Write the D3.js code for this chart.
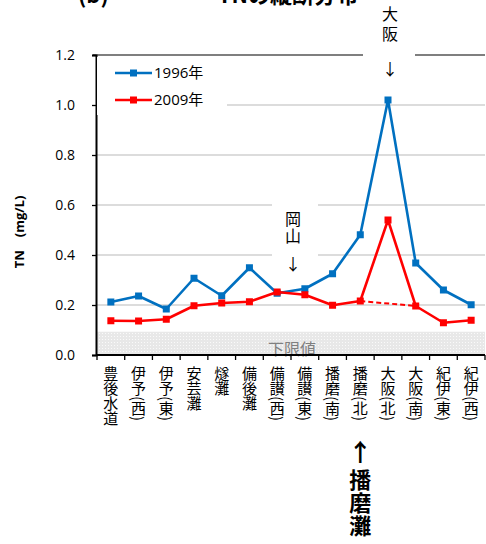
<!DOCTYPE html>
<html>
<head>
<meta charset="utf-8">
<script src="https://cdn.jsdelivr.net/npm/d3@7"></script>
<style>
  html, body { margin: 0; padding: 0; background: #fff; }
  svg { display: block; }
  text { font-family: "Noto Sans CJK JP", "Open Sans", sans-serif; }
</style>
</head>
<body>
<svg id="chart" width="486" height="544"></svg>
<script>
// Stations along the Seto Inland Sea, west to east
const categories = ["豊後水道", "伊予(西)", "伊予(東)", "安芸灘", "燧灘", "備後灘", "備讃(西)",
  "備讃(東)", "播磨(南)", "播磨(北)", "大阪(北)", "大阪(南)", "紀伊(東)", "紀伊(西)"];

// Total nitrogen (mg/L)
const tn1996 = [0.212, 0.236, 0.184, 0.307, 0.237, 0.349, 0.247, 0.265, 0.325, 0.481, 1.02, 0.368, 0.26, 0.201];
const tn2009 = [0.137, 0.136, 0.143, 0.197, 0.208, 0.213, 0.252, 0.241, 0.199, 0.216, 0.54, 0.196, 0.129, 0.139];

const seriesNames = ["1996年", "2009年"];
const seriesColors = ["#0070C0", "#FF0000"];

const yTicks = [0, 0.2, 0.4, 0.6, 0.8, 1.0, 1.2];
const detectionLimit = 0.093;

const svg = d3.select("#chart");
const plotLeft = 97, plotRight = 485, plotTop = 55, plotBottom = 355;

const x = d3.scaleBand().domain(categories).range([plotLeft, plotRight]);
const y = d3.scaleLinear().domain([0, 1.2]).range([plotBottom, plotTop]);
const cx = c => x(c) + x.bandwidth() / 2;

// Title, running off the top edge of the figure
svg.append("text").attr("x", 78).attr("y", 3)
  .style("font-size", "22px").style("font-weight", "bold").text("(b)");
svg.append("text").attr("x", 358).attr("y", 3).attr("text-anchor", "end")
  .style("font-size", "22px").style("font-weight", "bold").text("TNの縦断分布");

// Detection-limit band
const defs = svg.append("defs");
const pat = defs.append("pattern").attr("id", "dots").attr("patternUnits", "userSpaceOnUse")
  .attr("width", 3).attr("height", 3);
pat.append("rect").attr("width", 3).attr("height", 3).attr("fill", "#E8E8E8");
pat.append("rect").attr("width", 1).attr("height", 1).attr("fill", "#FAFAFA");

svg.append("rect").attr("x", plotLeft).attr("y", y(detectionLimit))
  .attr("width", plotRight - plotLeft).attr("height", y(0) - y(detectionLimit))
  .attr("fill", "url(#dots)");
svg.append("text").attr("x", (plotLeft + plotRight) / 2 + 1).attr("y", 355)
  .attr("text-anchor", "middle").attr("fill", "#7F7F7F")
  .style("font-size", "16px").text("下限値");

// Gridlines
svg.append("g").selectAll("line").data(yTicks.filter(t => t > 0 && t < 1.2)).join("line")
  .attr("x1", plotLeft).attr("x2", plotRight).attr("y1", d => y(d)).attr("y2", d => y(d))
  .attr("stroke", "#D0D0D0").attr("stroke-width", 1.3);
svg.append("line").attr("x1", 93).attr("x2", plotRight).attr("y1", y(1.2)).attr("y2", y(1.2))
  .attr("stroke", "#555").attr("stroke-width", 1.6);

// Y axis
const yAxis = svg.append("g").attr("transform", `translate(${plotLeft - 1},0)`)
  .call(d3.axisLeft(y).tickValues(yTicks).tickFormat(d3.format(".1f")).tickSize(4).tickPadding(17));
yAxis.select(".domain").attr("stroke", "#000").attr("stroke-width", 2);
yAxis.selectAll(".tick line").attr("stroke", "#000").attr("stroke-width", 1.3);
yAxis.selectAll(".tick text").style("font-family", "'Open Sans', sans-serif").style("font-size", "14px").attr("fill", "#000");

svg.append("text").attr("transform", "translate(24,232) rotate(-90)")
  .attr("text-anchor", "middle").style("font-size", "13px").style("font-weight", "bold")
  .style("font-family", "'Open Sans', sans-serif").text("TN　(mg/L)");

// X axis
const boundaries = categories.map(c => x(c)).concat([plotRight]);
svg.append("line").attr("x1", plotLeft - 1).attr("x2", plotRight).attr("y1", plotBottom).attr("y2", plotBottom)
  .attr("stroke", "#000").attr("stroke-width", 2);
svg.append("g").selectAll("line").data(boundaries).join("line")
  .attr("x1", d => d).attr("x2", d => d).attr("y1", plotBottom).attr("y2", plotBottom + 5)
  .attr("stroke", "#000").attr("stroke-width", 1.3);
svg.append("g").selectAll("text").data(categories).join("text")
  .attr("x", d => cx(d)).attr("y", 366)
  .style("writing-mode", "vertical-rl").style("font-size", "15px")
  .text(d => d);

// Annotation boxes (white backgrounds) and callouts
svg.append("rect").attr("x", plotLeft).attr("y", 57).attr("width", 130).attr("height", 58).attr("fill", "#fff");
svg.append("rect").attr("x", 272).attr("y", 193).attr("width", 46).attr("height", 82).attr("fill", "#fff");
svg.append("rect").attr("x", 363).attr("y", 0).attr("width", 52).attr("height", 90).attr("fill", "#fff");

function callout(xc, y0, label, spacing) {
  svg.append("text").attr("x", xc).attr("y", y0)
    .style("writing-mode", "vertical-rl").style("font-size", "16px")
    .style("letter-spacing", spacing + "px").text(label);
}
callout(293, 211, "岡山", 1);
callout(390, 6, "大阪", 4);
svg.append("text").attr("x", 293).attr("y", 270).attr("text-anchor", "middle").style("font-size", "16px").text("↓");
svg.append("text").attr("x", 390).attr("y", 75).attr("text-anchor", "middle").style("font-size", "16px").text("↓");

// 播磨灘 callout below the axis
svg.append("text").attr("x", cx("播磨(北)")).attr("y", 461).attr("text-anchor", "middle")
  .style("font-size", "24px").style("font-weight", "bold").text("↑");
svg.append("text").attr("x", cx("播磨(北)")).attr("y", 469)
  .style("writing-mode", "vertical-rl").style("font-size", "22px").style("font-weight", "bold")
  .style("letter-spacing", "1px").text("播磨灘");

// Series
const line = d3.line().x((d, i) => cx(categories[i])).y(d => y(d));
const series = [tn1996, tn2009];

series.forEach((vals, s) => {
  const g = svg.append("g");
  g.append("path").datum(vals).attr("d", line).attr("fill", "none")
    .attr("stroke", seriesColors[s]).attr("stroke-width", 2.6).attr("stroke-linejoin", "round");
  if (s === 1) {
    // direct 播磨(北) → 大阪(南) link, dashed
    const i0 = categories.indexOf("播磨(北)"), i1 = categories.indexOf("大阪(南)");
    g.append("line").attr("x1", cx(categories[i0])).attr("y1", y(vals[i0]))
      .attr("x2", cx(categories[i1])).attr("y2", y(vals[i1]))
      .attr("stroke", seriesColors[s]).attr("stroke-width", 2).attr("stroke-dasharray", "5,3");
  }
  g.selectAll("rect").data(vals).join("rect")
    .attr("x", (d, i) => cx(categories[i]) - 3.5).attr("y", d => y(d) - 3.5)
    .attr("width", 7).attr("height", 7).attr("fill", seriesColors[s]);
});

// Legend
seriesNames.forEach((name, s) => {
  const ly = 73 + s * 27;
  svg.append("line").attr("x1", 115).attr("x2", 152).attr("y1", ly).attr("y2", ly)
    .attr("stroke", seriesColors[s]).attr("stroke-width", 2.6);
  svg.append("rect").attr("x", 130).attr("y", ly - 3.5).attr("width", 7).attr("height", 7).attr("fill", seriesColors[s]);
  svg.append("text").attr("x", 154).attr("y", ly + 5).style("font-size", "15px")
    .style("font-family", "'Open Sans', 'Noto Sans CJK JP', sans-serif").text(name);
});
</script>
</body>
</html>
